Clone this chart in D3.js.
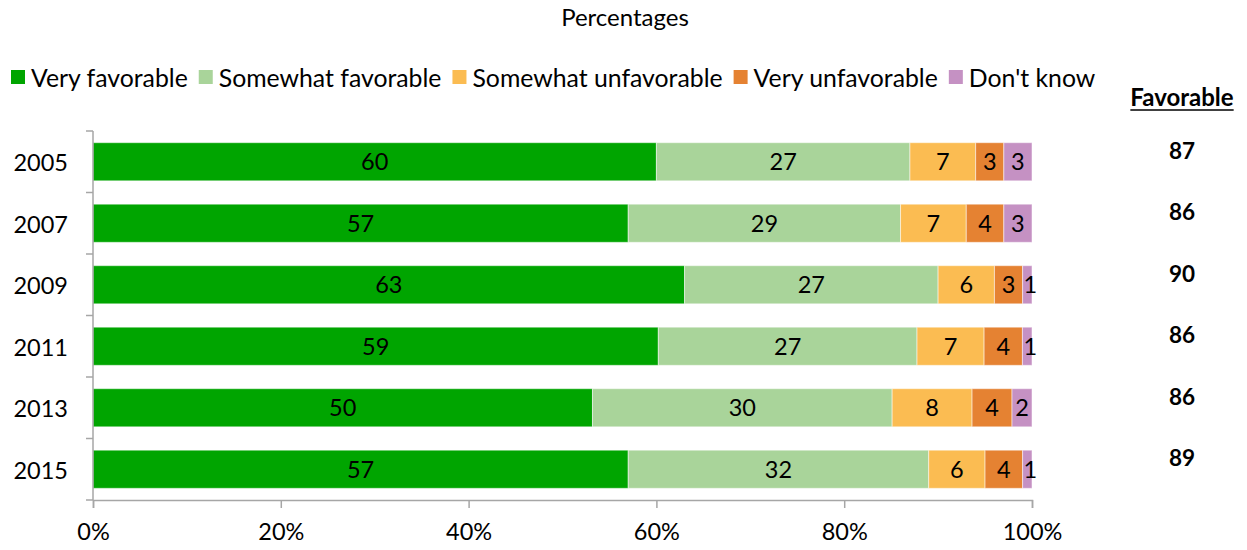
<!DOCTYPE html>
<html>
<head>
<meta charset="utf-8">
<script src="https://cdn.jsdelivr.net/npm/d3@7/dist/d3.min.js"></script>
<style>
  html, body { margin: 0; padding: 0; background: #fff; }
  svg { display: block; font-family: Lato, "Open Sans", sans-serif; }
</style>
</head>
<body>
<svg id="chart" width="1247" height="550"></svg>
<script>
// Survey years and response shares (percent)
const years = ["2005", "2007", "2009", "2011", "2013", "2015"];
const seriesNames = ["Very favorable", "Somewhat favorable", "Somewhat unfavorable", "Very unfavorable", "Don't know"];
const veryFavorable = [60, 57, 63, 59, 50, 57];
const somewhatFavorable = [27, 29, 27, 27, 30, 32];
const somewhatUnfavorable = [7, 7, 6, 7, 8, 6];
const veryUnfavorable = [3, 4, 3, 4, 4, 4];
const dontKnow = [3, 3, 1, 1, 2, 1];
const favorableTotal = [87, 86, 90, 86, 86, 89];
const xTickLabels = ["0%", "20%", "40%", "60%", "80%", "100%"];
const colors = ["#00a500", "#a9d49a", "#fbbc52", "#e58232", "#c591c3"];

const seriesValues = [veryFavorable, somewhatFavorable, somewhatUnfavorable, veryUnfavorable, dontKnow];
const keys = seriesNames;
const rows = years.map((y, i) => {
  const r = { year: y };
  keys.forEach((k, j) => r[k] = seriesValues[j][i]);
  return r;
});

const svg = d3.select("#chart");

// Each row is stacked to 100%
const stack = d3.stack().keys(keys).offset(d3.stackOffsetExpand);
const layers = stack(rows);

const x = d3.scaleLinear().domain([0, 1]).range([93, 1032]);
const y = d3.scaleBand().domain(years).range([131, 500]).paddingInner(0.38).paddingOuter(0.19);
const yStep = d3.scaleBand().domain(years).range([131, 500]);

// Title
svg.append("text").attr("x", 625).attr("y", 26).attr("text-anchor", "middle")
  .attr("font-size", 24).attr("fill", "#000").text("Percentages");

// Legend
let lx = 11;
seriesNames.forEach((name, i) => {
  svg.append("rect").attr("x", lx).attr("y", 70).attr("width", 14).attr("height", 14).attr("fill", colors[i]);
  const t = svg.append("text").attr("x", lx + 20).attr("y", 87).attr("font-size", 24.8).attr("fill", "#000").text(name);
  lx += 20 + t.node().getComputedTextLength() + 11;
});

// Bars
const g = svg.append("g");
layers.forEach((layer, li) => {
  g.selectAll(null).data(layer).enter().append("rect")
    .attr("x", d => x(d[0]))
    .attr("y", d => y(d.data.year))
    .attr("width", d => x(d[1]) - x(d[0]))
    .attr("height", y.bandwidth())
    .attr("fill", colors[li])
    .attr("stroke", "rgba(255,255,255,0.5)")
    .attr("stroke-width", 1);
  g.selectAll(null).data(layer).enter().append("text")
    .attr("x", d => (x(d[0]) + x(d[1])) / 2 + (d.data[keys[li]] < 2 ? 3 : 0))
    .attr("y", d => y(d.data.year) + y.bandwidth() / 2 + 8.5)
    .attr("text-anchor", "middle")
    .attr("font-size", 23.5)
    .attr("fill", "#000")
    .text(d => d.data[keys[li]]);
});

// Y axis
const ya = svg.append("g").attr("transform", "translate(93,0)");
ya.append("line").attr("x1", 0).attr("x2", 0).attr("y1", 131).attr("y2", 500).attr("stroke", "#a6a6a6").attr("stroke-width", 1.5);
d3.range(years.length + 1).forEach(i => {
  const ty = 131 + i * yStep.step();
  ya.append("line").attr("x1", -7).attr("x2", 0).attr("y1", ty).attr("y2", ty).attr("stroke", "#a6a6a6").attr("stroke-width", 1.5);
});
years.forEach(yr => {
  svg.append("text").attr("x", 68).attr("y", yStep(yr) + yStep.bandwidth() / 2 + 9.5)
    .attr("text-anchor", "end").attr("font-size", 23.5).attr("fill", "#000").text(yr);
});

// X axis
const xAxis = d3.axisBottom(x).tickValues([0, 0.2, 0.4, 0.6, 0.8, 1]).tickSize(8)
  .tickFormat((d, i) => xTickLabels[i]);
const xa = svg.append("g").attr("transform", "translate(0,500)").call(xAxis);
xa.select(".domain").attr("stroke", "#a6a6a6").attr("stroke-width", 1.5);
xa.selectAll(".tick line").attr("stroke", "#a6a6a6").attr("stroke-width", 1.5);
xa.selectAll(".tick text").attr("font-size", 23.5).attr("fill", "#000").attr("dy", 0).attr("y", 40)
  .attr("font-family", "Lato, 'Open Sans', sans-serif");

// Favorable column
const fh = svg.append("text").attr("x", 1182).attr("y", 106).attr("text-anchor", "middle")
  .attr("font-size", 24).attr("font-weight", "bold").attr("fill", "#000").text("Favorable");
const fw = fh.node().getComputedTextLength();
svg.append("line").attr("x1", 1182 - fw / 2).attr("x2", 1182 + fw / 2).attr("y1", 110).attr("y2", 110)
  .attr("stroke", "#000").attr("stroke-width", 1.5);
years.forEach((yr, i) => {
  svg.append("text").attr("x", 1182).attr("y", y(yr) + 16).attr("text-anchor", "middle")
    .attr("font-size", 22.5).attr("font-weight", "bold").attr("fill", "#000").text(favorableTotal[i]);
});
</script>
</body>
</html>
